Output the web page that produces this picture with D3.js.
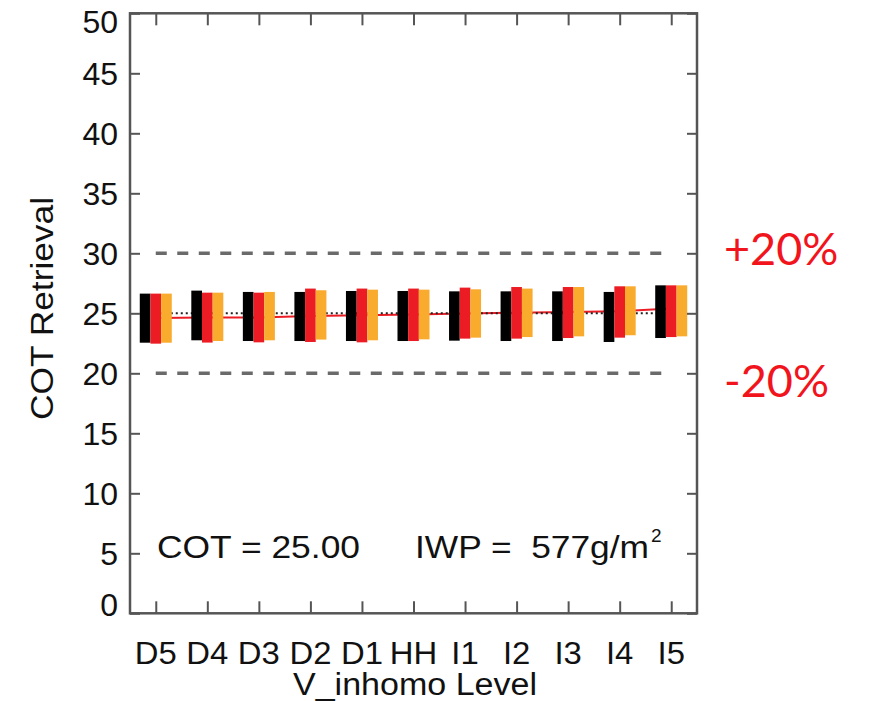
<!DOCTYPE html>
<html><head><meta charset="utf-8">
<script src="https://cdn.jsdelivr.net/npm/d3@7"></script>
<style>body{margin:0;background:#fff}svg{display:block}</style>
</head><body>
<svg id="c" width="869" height="701"></svg>
<script>
const categories = ["D5","D4","D3","D2","D1","HH","I1","I2","I3","I4","I5"];
const blackHigh  = [26.64,26.89,26.78,26.78,26.86,26.86,26.83,26.83,26.83,26.78,27.33];
const blackLow   = [22.55,22.75,22.69,22.69,22.69,22.69,22.72,22.69,22.69,22.61,22.94];
const redHigh    = [26.64,26.72,26.72,27.06,27.06,27.06,27.14,27.19,27.19,27.25,27.33];
const redLow     = [22.47,22.56,22.58,22.61,22.58,22.69,22.89,22.89,22.94,22.97,23.02];
const orangeHigh = [26.64,26.72,26.78,26.92,26.97,26.97,27.00,27.06,27.19,27.25,27.33];
const orangeLow  = [22.55,22.69,22.75,22.81,22.75,22.83,22.97,23.02,23.08,23.17,23.08];
const meanLine   = [24.60,24.64,24.66,24.78,24.84,24.90,24.98,25.05,25.10,25.18,25.40];
const trueCOT = 25;
const boundLines = [30, 20];
const boundLabels = ["+20%", "-20%"];
const yTicks = [0,5,10,15,20,25,30,35,40,45,50];

const svg = d3.select("#c");
const L = 130, R = 697, T = 13.3, B = 613.3;
const x = d3.scaleLinear().domain([-0.5, 10.5]).range([L, R]);
const y = d3.scaleLinear().domain([0, 50]).range([B, T]);
const axisColor = "#555";
const font = "'Liberation Sans', Arial, Helvetica, sans-serif";
const ink = "#111";

// bound dashed lines
svg.selectAll(".bound").data(boundLines).join("line")
  .attr("x1", x(0)).attr("x2", x(10))
  .attr("y1", d => y(d)).attr("y2", d => y(d))
  .attr("stroke", "#6a6a6a").attr("stroke-width", 3.5)
  .attr("stroke-dasharray", "11,10.5");

// mean red line and true-value dotted line
svg.append("path")
  .attr("d", d3.line().x((d,i) => x(i)).y(d => y(d))(meanLine))
  .attr("fill", "none").attr("stroke", "#ec1c24").attr("stroke-width", 2);
svg.append("line")
  .attr("x1", x(0)).attr("x2", x(10)).attr("y1", y(trueCOT)).attr("y2", y(trueCOT))
  .attr("stroke", "#222").attr("stroke-width", 2).attr("stroke-dasharray", "2,3");

// bars
const bw = x(0.207) - x(0);
const series = [
  {hi: blackHigh, lo: blackLow, color: "#000000", off: -1.5},
  {hi: redHigh, lo: redLow, color: "#ec1c24", off: -0.5},
  {hi: orangeHigh, lo: orangeLow, color: "#f9ab2e", off: 0.5}
];
series.forEach(s => {
  svg.append("g").selectAll("rect").data(categories).join("rect")
    .attr("x", (d,i) => x(i) + s.off * bw)
    .attr("width", bw)
    .attr("y", (d,i) => y(s.hi[i]))
    .attr("height", (d,i) => y(s.lo[i]) - y(s.hi[i]))
    .attr("fill", s.color);
});

// frame
svg.append("rect").attr("x", L).attr("y", T).attr("width", R-L).attr("height", B-T)
  .attr("fill", "none").attr("stroke", axisColor).attr("stroke-width", 2.5);

// axes with inward ticks
const yl = svg.append("g").attr("transform", `translate(${L},0)`)
  .call(d3.axisRight(y).tickValues(yTicks).tickSize(10).tickFormat(""));
const yr = svg.append("g").attr("transform", `translate(${R},0)`)
  .call(d3.axisLeft(y).tickValues(yTicks).tickSize(10).tickFormat(""));
const xb = svg.append("g").attr("transform", `translate(0,${B})`)
  .call(d3.axisTop(x).tickValues(d3.range(categories.length)).tickSize(12).tickFormat(""));
const xt = svg.append("g").attr("transform", `translate(0,${T})`)
  .call(d3.axisBottom(x).tickValues(d3.range(categories.length)).tickSize(12).tickFormat(""));
[yl, yr, xb, xt].forEach(g => {
  g.select(".domain").remove();
  g.selectAll(".tick line").attr("stroke", axisColor).attr("stroke-width", 2);
});

// y tick labels
svg.append("g").selectAll("text").data(yTicks).join("text")
  .attr("x", 118)
  .attr("y", d => y(d) + (d === 50 ? 8 : d === 0 ? -9 : 0))
  .attr("dy", "0.36em")
  .attr("text-anchor", "end")
  .attr("font-family", font).attr("font-size", 32).attr("fill", ink)
  .text(d => d);

// x tick labels
svg.append("g").selectAll("g").data(categories).join("g")
  .attr("transform", (d,i) => `translate(${x(i)},664) scale(1.06,1)`)
  .append("text")
  .attr("text-anchor", "middle")
  .attr("font-family", font).attr("font-size", 31).attr("fill", ink)
  .text(d => d);

// axis titles
svg.append("text").attr("x", 293).attr("y", 695)
  .attr("textLength", 244).attr("lengthAdjust", "spacingAndGlyphs")
  .attr("font-family", font).attr("font-size", 31).attr("fill", ink)
  .text("V_inhomo Level");
svg.append("text").attr("transform", "translate(53,420) rotate(-90)")
  .attr("textLength", 223).attr("lengthAdjust", "spacingAndGlyphs")
  .attr("font-family", font).attr("font-size", 32).attr("fill", ink)
  .text("COT Retrieval");

// annotations
svg.append("text").attr("x", 157).attr("y", 558)
  .attr("textLength", 203).attr("lengthAdjust", "spacingAndGlyphs")
  .attr("font-family", font).attr("font-size", 32).attr("fill", ink)
  .text("COT = 25.00");
svg.append("text").attr("x", 415).attr("y", 558)
  .attr("textLength", 234).attr("lengthAdjust", "spacingAndGlyphs")
  .attr("font-family", font).attr("font-size", 32).attr("fill", ink)
  .attr("xml:space", "preserve").style("white-space", "pre")
  .text("IWP =  577g/m");
svg.append("text").attr("x", 651).attr("y", 542)
  .attr("font-family", font).attr("font-size", 19).attr("fill", ink)
  .text("2");

// percent labels
const pctOffset = [-5, 7];
svg.append("g").selectAll("text").data(boundLines).join("text")
  .attr("x", 724).attr("y", (d,i) => y(d) + pctOffset[i]).attr("dy", "0.36em")
  .attr("font-family", "Lato, 'Open Sans', sans-serif").attr("font-size", 45)
  .attr("fill", "#f2141c")
  .text((d,i) => boundLabels[i]);
</script>
</body></html>
